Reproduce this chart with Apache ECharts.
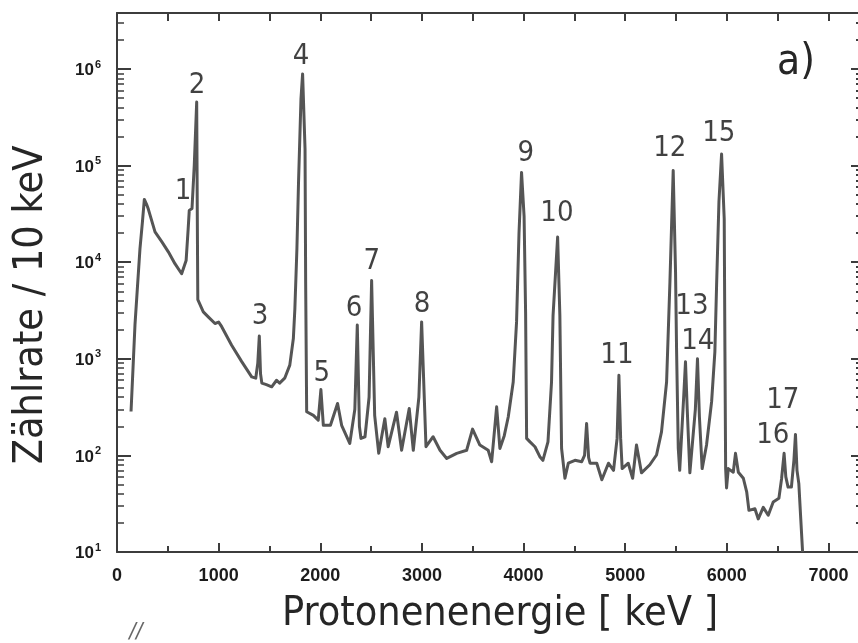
<!DOCTYPE html>
<html><head><meta charset="utf-8">
<script src="https://cdn.jsdelivr.net/npm/echarts@6/dist/echarts.min.js"></script>
<style>html,body{margin:0;padding:0;background:#fff}#c{width:858px;height:643px}</style>
</head><body><div id="c"></div>
<script>
// Spectrum: proton energy (keV) and counts per 10 keV
const energy = [138,160,177,200,226,250,269,290,308,374,440,505,570,636,655,680,700,711,738,760,784,790,795,849,900,964,1000,1030,1128,1227,1325,1365,1385,1400,1412,1425,1470,1522,1570,1600,1650,1700,1735,1750,1770,1786,1810,1826,1850,1856,1866,1932,1980,2006,2030,2100,2170,2210,2290,2340,2364,2385,2400,2440,2480,2505,2535,2575,2635,2668,2750,2800,2875,2915,2970,2997,3040,3110,3178,3244,3342,3440,3498,3570,3652,3686,3735,3767,3810,3849,3898,3931,3955,3980,4005,4020,4030,4063,4112,4160,4190,4240,4275,4290,4335,4357,4374,4407,4440,4506,4572,4600,4620,4640,4654,4720,4770,4835,4885,4920,4938,4955,4970,5030,5073,5111,5160,5242,5308,5357,5407,5440,5472,5495,5505,5522,5536,5575,5593,5610,5636,5690,5711,5730,5757,5800,5850,5882,5899,5922,5948,5974,5981,5988,5997,6014,6063,6085,6113,6162,6195,6217,6276,6309,6358,6407,6456,6512,6538,6563,6580,6602,6635,6660,6675,6690,6708,6727,6745];
const counts = [285,910,2260,5300,13800,26000,44700,40000,35500,20600,16300,12800,9650,7600,7900,10400,22000,34400,36000,100000,455000,30000,4100,3060,2700,2320,2400,2150,1380,935,650,630,900,1720,700,560,540,513,600,560,630,860,1620,3300,13800,68000,490000,890000,148000,6300,283,260,232,480,205,205,345,205,133,300,2240,200,150,156,400,6450,260,105,240,123,280,113,306,113,400,2410,123,156,113,93,105,113,187,128,113,86,318,118,160,250,575,2410,20000,85000,30000,3000,150,138,123,97,89,138,575,2800,18200,2800,118,58,83,89,86,100,214,95,83,83,56,83,70,150,676,150,73,83,58,128,66,80,101,175,575,6300,89000,8000,1280,118,70,400,930,300,66,300,1000,250,73,128,360,1180,5800,42000,132000,28000,1180,73,46,73,67,105,67,58,42,27,28,22,29,24,33,36,57,105,60,47,47,90,165,70,51,22,10];

// Peak numbers and where their labels sit (in data units)
const peakNames = ['1','2','3','4','5','6','7','8','9','10','11','12','13','14','15','16','17'];
const peakLabelEnergy = [649,787,1407,1810,2016,2331,2508,3000,4023,4328,4918,5439,5656,5714,5921,6452,6551];
const peakLabelCounts = [53700,676000,2750,1350000,705,3310,10200,3640,132000,31700,1070,150000,3470,1510,214000,161,370];

const xTickLabels = ['0','1000','2000','3000','4000','5000','6000','7000'];

const NARROW = '"Liberation Sans Narrow", "DejaVu Sans Condensed", "Liberation Sans", sans-serif';
const INK = '#1c1c1c';
const FRAME = '#3c3c3c';

const chart = echarts.init(document.getElementById('c'), null, {renderer: 'canvas'});

function yLabel(v) {
  const l = Math.log10(v);
  const e = Math.round(l);
  if (Math.abs(l - e) > 1e-6) return '';
  return '{b|10}{s|' + e + '}';
}

const option = {
  animation: false,
  backgroundColor: '#ffffff',
  grid: {left: 117, top: 13, width: 742, height: 539, containLabel: false, outerBoundsMode: 'none'},
  xAxis: [
    {
      type: 'value', min: 0, max: 7300, interval: 1000, position: 'bottom',
      splitLine: {show: false},
      axisLine: {show: true, onZero: false, lineStyle: {color: FRAME, width: 2}},
      axisTick: {show: true, inside: true, length: 9, lineStyle: {color: FRAME, width: 2}},
      minorTick: {show: true, splitNumber: 2, length: 6, lineStyle: {color: FRAME, width: 2}},
      axisLabel: {
        formatter: v => (v % 1000 === 0 ? xTickLabels[v / 1000] : ''),
        fontFamily: '"Liberation Sans", sans-serif', fontWeight: 'bold', fontSize: 18,
        color: INK, margin: 15
      }
    },
    {
      type: 'value', min: 0, max: 7300, interval: 500, position: 'top',
      splitLine: {show: false},
      axisLine: {show: true, onZero: false, lineStyle: {color: FRAME, width: 2}},
      axisTick: {show: true, inside: true, length: 8, lineStyle: {color: FRAME, width: 2}},
      axisLabel: {show: false}
    }
  ],
  yAxis: [
    {
      type: 'log', logBase: 10, min: 10, max: 3.8e6, position: 'left',
      splitLine: {show: false}, minorSplitLine: {show: false},
      axisLine: {show: true, onZero: false, lineStyle: {color: FRAME, width: 2}},
      axisTick: {show: true, inside: true, length: 14, lineStyle: {color: FRAME, width: 2}},
      minorTick: {show: true, splitNumber: 9, length: 7, lineStyle: {color: FRAME, width: 1.5}},
      axisLabel: {
        formatter: yLabel, margin: 16,
        rich: {
          b: {fontFamily: '"Liberation Sans", sans-serif', fontWeight: 'bold', fontSize: 17, color: INK, lineHeight: 20, verticalAlign: 'bottom'},
          s: {fontFamily: '"Liberation Sans", sans-serif', fontWeight: 'bold', fontSize: 11, color: INK, lineHeight: 20, verticalAlign: 'top', padding: [0, 0, 6, 1]}
        }
      }
    },
    {
      type: 'log', logBase: 10, min: 10, max: 3.8e6, position: 'right',
      splitLine: {show: false}, minorSplitLine: {show: false},
      axisLine: {show: true, onZero: false, lineStyle: {color: FRAME, width: 2}},
      axisTick: {show: true, inside: true, length: 8, lineStyle: {color: FRAME, width: 2}},
      minorTick: {show: true, splitNumber: 9, length: 3, lineStyle: {color: FRAME, width: 2}},
      axisLabel: {show: false}
    }
  ],
  series: [
    {
      type: 'line', xAxisIndex: 0, yAxisIndex: 0,
      data: energy.map((e, i) => [e, counts[i]]),
      showSymbol: false, symbol: 'none',
      lineStyle: {color: '#555555', width: 3, join: 'round'}
    },
    {
      type: 'scatter', xAxisIndex: 0, yAxisIndex: 0,
      symbolSize: 1, itemStyle: {color: 'rgba(0,0,0,0)'},
      data: peakNames.map((n, i) => ({name: n, value: [peakLabelEnergy[i], peakLabelCounts[i]]})),
      label: {show: true, position: 'inside', formatter: '{b}', fontFamily: NARROW, fontSize: 29, color: '#111'}
    }
  ],
  graphic: [
    {type: 'text', x: 31, y: 305, rotation: Math.PI / 2,
     style: {text: 'Zählrate / 10 keV', font: '41px ' + NARROW, fill: '#262626', align: 'center', verticalAlign: 'middle'}},
    {type: 'text', x: 500, y: 614,
     style: {text: 'Protonenenergie [ keV ]', font: '41px ' + NARROW, fill: '#262626', align: 'center', verticalAlign: 'middle'}},
    {type: 'text', x: 796, y: 63,
     style: {text: 'a)', font: '42px ' + NARROW, fill: '#262626', align: 'center', verticalAlign: 'middle'}},
    {type: 'text', x: 136, y: 632,
     style: {text: '//', font: 'italic 22px ' + NARROW, fill: '#666', align: 'center', verticalAlign: 'middle'}}
  ]
};
chart.setOption(option);
</script></body></html>
